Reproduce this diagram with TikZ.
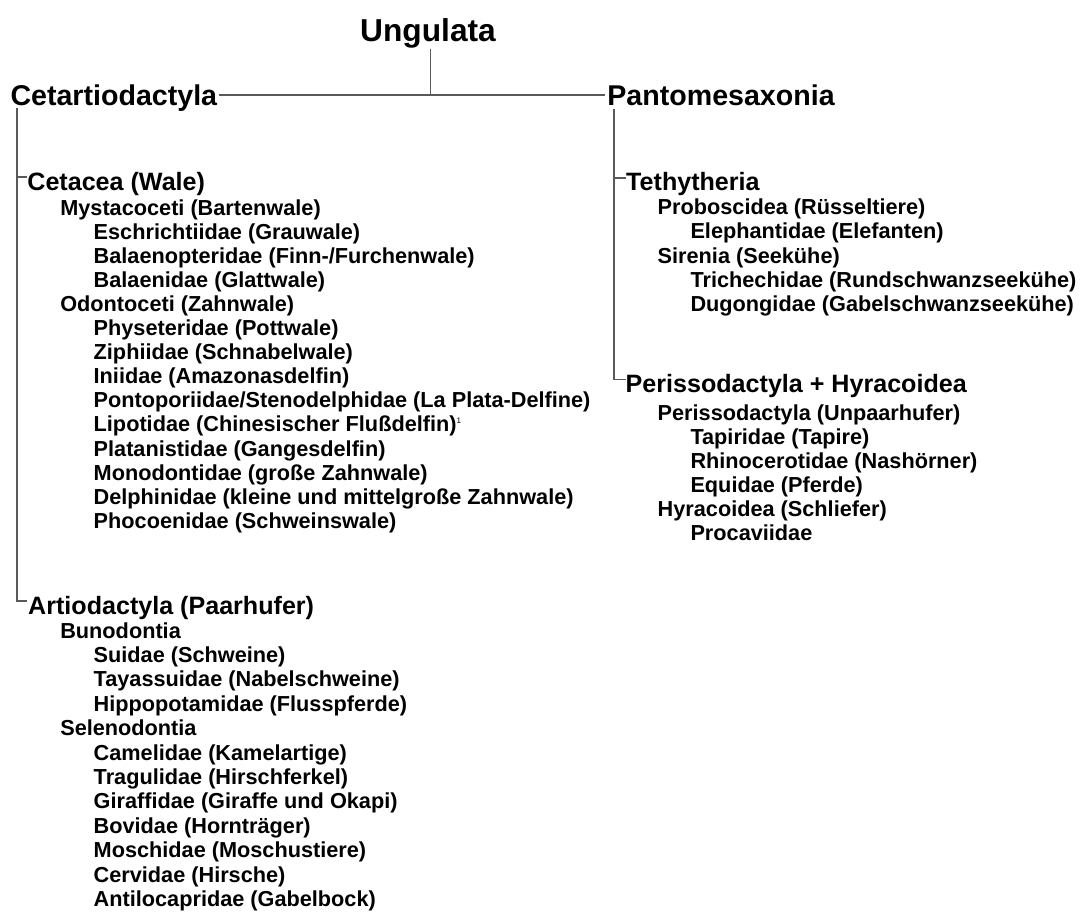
\documentclass[tikz,border=0pt]{standalone}
\usepackage{fontspec}
\setmainfont{Liberation Sans}
\usetikzlibrary{calc, positioning}

\tikzset{
  rootlabel/.style={font=\fontsize{31.7}{36}\selectfont\bfseries, inner sep=0pt, anchor=base},
  cladelabel/.style={font=\fontsize{28.6}{32}\selectfont\bfseries, inner sep=0pt, anchor=base west},
  grouplabel/.style={font=\fontsize{25.1}{28}\selectfont\bfseries, inner sep=0pt, anchor=base west},
  taxonlabel/.style={font=\fontsize{21.7}{24}\selectfont\bfseries, inner sep=0pt, anchor=base west},
  treeline/.style={draw=black!65, line width=1.4pt},
}

\begin{document}
\begin{tikzpicture}[x=1pt, y=-1pt]
  \useasboundingbox (0,0) rectangle (1083,912);
  % Root and main clades
  \node[rootlabel] (ung) at (428,41.7) {Ungulata};
  \node[cladelabel] (cet) at (10.3,106) {Cetartiodactyla};
  \node[cladelabel] (pan) at (607.2,106) {Pantomesaxonia};
  % Groups
  \node[grouplabel] (cetacea) at (27.2,190) {Cetacea (Wale)};
  \node[grouplabel] (artio) at (28,614) {Artiodactyla (Paarhufer)};
  \node[grouplabel] (tethy) at (626,190) {Tethytheria};
  \node[grouplabel] (periss) at (625.5,392.5) {Perissodactyla + Hyracoidea};
  % Cetacea
  \foreach \xx/\txt [count=\i from 0] in {60.1/Mystacoceti (Bartenwale), 93.5/Eschrichtiidae (Grauwale),
      93.5/{Balaenopteridae (Finn-/Furchenwale)}, 93.5/Balaenidae (Glattwale), 60.1/Odontoceti (Zahnwale),
      93.5/Physeteridae (Pottwale), 93.5/Ziphiidae (Schnabelwale), 93.5/Iniidae (Amazonasdelfin),
      93.5/{Pontoporiidae/Stenodelphidae (La Plata-Delfine)},
      93.5/{Lipotidae (Chinesischer Flußdelfin)\raisebox{0.4em}{\fontsize{8}{8}\selectfont\mdseries 1}},
      93.5/Platanistidae (Gangesdelfin), 93.5/Monodontidae (große Zahnwale),
      93.5/Delphinidae (kleine und mittelgroße Zahnwale), 93.5/Phocoenidae (Schweinswale)}
    \node[taxonlabel] (cw\i) at (\xx, 215+24.1*\i) {\txt};
  % Artiodactyla
  \foreach \xx/\txt [count=\i from 0] in {60.1/Bunodontia, 93.5/Suidae (Schweine), 93.5/Tayassuidae (Nabelschweine),
      93.5/Hippopotamidae (Flusspferde), 60.1/Selenodontia, 93.5/Camelidae (Kamelartige),
      93.5/Tragulidae (Hirschferkel), 93.5/Giraffidae (Giraffe und Okapi), 93.5/Bovidae (Hornträger),
      93.5/Moschidae (Moschustiere), 93.5/Cervidae (Hirsche), 93.5/Antilocapridae (Gabelbock)}
    \node[taxonlabel] (ar\i) at (\xx, 638+24.4*\i) {\txt};
  % Tethytheria
  \foreach \xx/\txt [count=\i from 0] in {657.5/Proboscidea (Rüsseltiere), 690.3/Elephantidae (Elefanten),
      657.5/Sirenia (Seekühe), 690.3/Trichechidae (Rundschwanzseekühe), 690.3/Dugongidae (Gabelschwanzseekühe)}
    \node[taxonlabel] (te\i) at (\xx, 214.5+24.3*\i) {\txt};
  % Perissodactyla + Hyracoidea
  \foreach \xx/\txt [count=\i from 0] in {657.5/Perissodactyla (Unpaarhufer), 690.3/Tapiridae (Tapire),
      690.3/Rhinocerotidae (Nashörner), 690.3/Equidae (Pferde), 657.5/Hyracoidea (Schliefer), 690.3/Procaviidae}
    \node[taxonlabel] (pe\i) at (\xx, 420+24.1*\i) {\txt};
  % Connectors
  \coordinate (jn) at ($(cet.base east)+(2,-11)$);
  \draw[treeline] (jn) -- ($(pan.base west)+(-2,-11)$);
  \draw[treeline] ($(ung.south)+(2.5,0)$) -- ($(ung.south |- jn)+(2.5,0)$);
  \coordinate (cspine) at ($(cet.base west)+(6.8,2)$);
  \draw[treeline] (cspine) |- ($(artio.base west)+(-1,-13)$);
  \draw[treeline] ($(cetacea.base west)+(0,-13)$) -| (cspine);
  \coordinate (pspine) at ($(pan.base west)+(6.8,3)$);
  \draw[treeline] (pspine) |- ($(periss.base west)+(0,-13)$);
  \draw[treeline] ($(tethy.base west)+(0,-12)$) -| (pspine);
\end{tikzpicture}
\end{document}
